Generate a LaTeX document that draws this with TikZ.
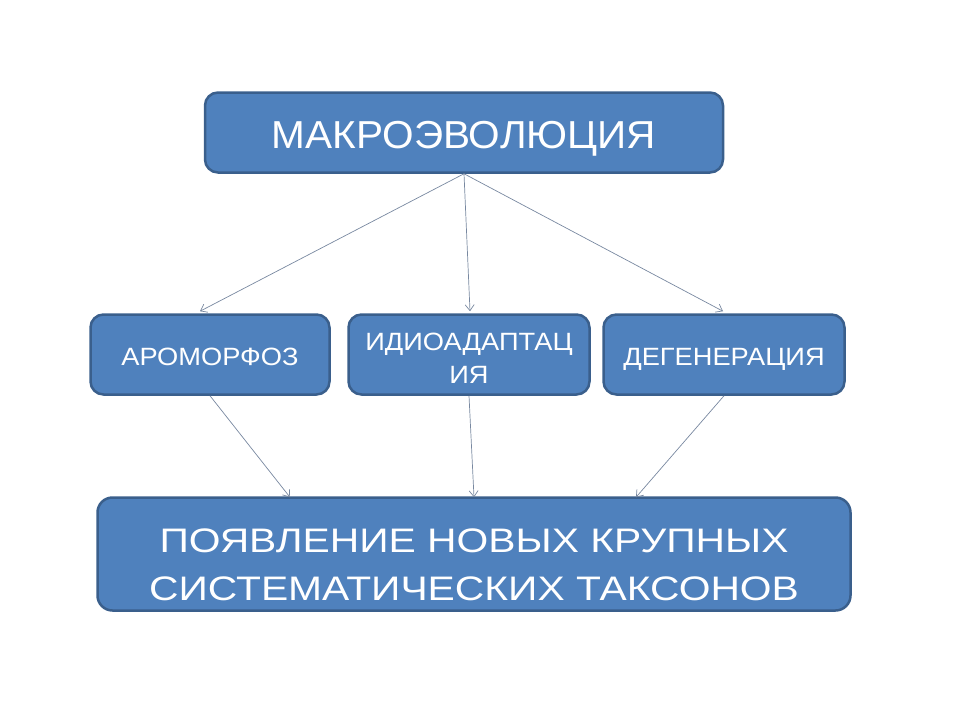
\documentclass[tikz,border=0pt]{standalone}
\usepackage{fontspec}
\setmainfont{Liberation Sans}
\newfontfamily\topfont[FakeStretch=1.04]{Liberation Sans}
\newfontfamily\midfont[FakeStretch=1.09]{Liberation Sans}
\newfontfamily\botfont[FakeStretch=1.2]{Liberation Sans}
\usetikzlibrary{arrows.meta,calc}
\definecolor{boxfill}{HTML}{4F81BD}
\definecolor{boxline}{HTML}{3A5F8C}
\definecolor{arr}{HTML}{7888A0}
\begin{document}
\begin{tikzpicture}[x=1pt,y=-1pt,
  box/.style={draw=boxline,line width=2.5pt,fill=boxfill,rounded corners=13pt,text=white,align=center,inner sep=0pt,text depth=0pt},
  conn/.style={draw=arr,line width=0.7pt,-{Straight Barb[length=6pt,width=9pt]}}]
\useasboundingbox (0,0) rectangle (960,720);
\node[box,minimum width=518pt,minimum height=80pt,text height=31pt,font=\topfont\fontsize{39}{46}\selectfont] (top) at (464,132.5) {МАКРОЭВОЛЮЦИЯ};
\node[box,minimum width=239pt,minimum height=80pt,text height=21pt,font=\midfont\fontsize{25}{33}\selectfont] (aro) at (210,354.5) {АРОМОРФОЗ};
\node[box,minimum width=241pt,minimum height=80pt,text height=57pt,font=\midfont\fontsize{25}{33}\selectfont] (idio) at (469,354.5) {ИДИОАДАПТАЦ\\ИЯ};
\node[box,minimum width=241pt,minimum height=80pt,text height=21pt,font=\midfont\fontsize{25}{33}\selectfont] (deg) at (724,354.5) {ДЕГЕНЕРАЦИЯ};
\node[box,minimum width=753pt,minimum height=113pt,rounded corners=15pt,text height=92pt,font=\botfont\fontsize{34}{48}\selectfont] (bot) at (474,554) {ПОЯВЛЕНИЕ НОВЫХ КРУПНЫХ\\СИСТЕМАТИЧЕСКИХ ТАКСОНОВ};
\draw[conn] (top.south) -- ([xshift=-10pt,yshift=2pt]aro.north);
\draw[conn] (top.south) -- ([xshift=1pt,yshift=2pt]idio.north);
\draw[conn] (top.south) -- ([xshift=-1pt,yshift=2pt]deg.north);
\draw[conn] (aro.south) -- ([xshift=-184pt,yshift=-1pt]bot.north);
\draw[conn] (idio.south) -- ([yshift=-1pt]bot.north);
\draw[conn] (deg.south) -- ([xshift=162pt,yshift=-1pt]bot.north);
\end{tikzpicture}
\end{document}
